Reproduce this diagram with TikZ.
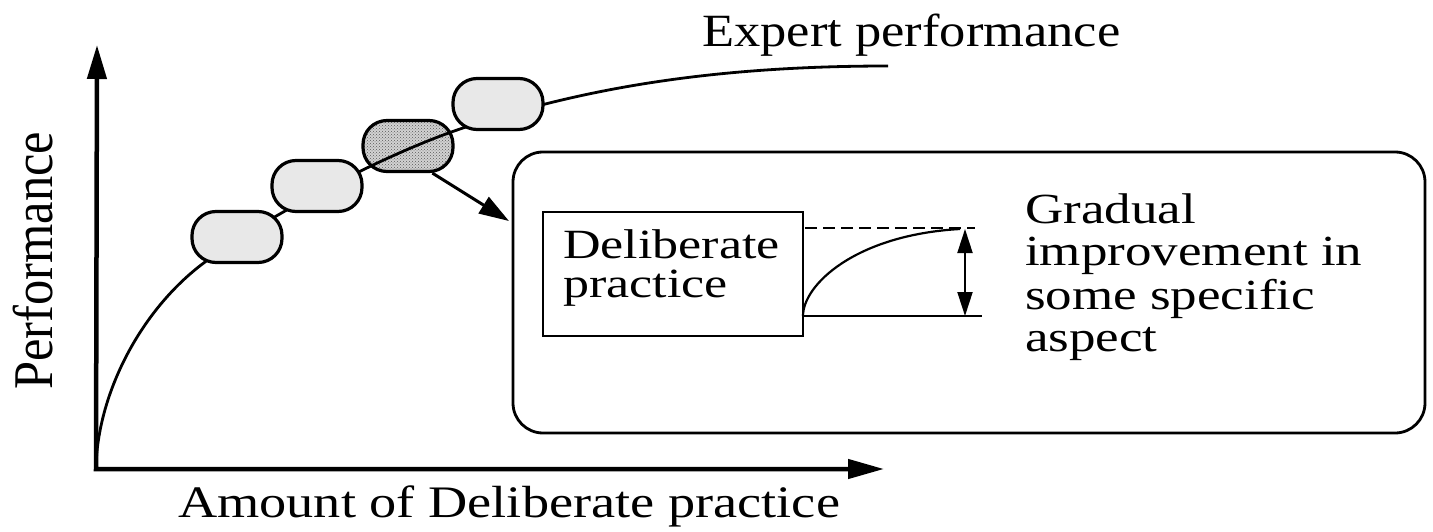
\documentclass[tikz,border=0pt]{standalone}
\usepackage{fontspec}
\setmainfont{Liberation Serif}
\usetikzlibrary{arrows.meta,patterns}
\begin{document}
\begin{tikzpicture}[x=1pt,y=-1pt,
  axisline/.style={line width=4.5pt,line join=miter},
  stage/.style={draw,line width=3.2pt,rounded corners=24pt,minimum width=90pt,minimum height=51pt,inner sep=0pt,fill=gray!18},
  current/.style={stage,preaction={fill=gray!35},pattern=crosshatch dots,pattern color=black!65},
  lbl/.style={inner sep=0pt,anchor=base west},
  thincurve/.style={line width=2.8pt},
]
\useasboundingbox (0,0) rectangle (1433,532);

% axes
\coordinate (O) at (96,469);
\coordinate (ytip) at (97,45);
\coordinate (xtip) at (884,469);
\draw[axisline,{Triangle[length=34pt,width=19pt]}-{Triangle[length=36pt,width=19pt]}] (ytip) -- (O) -- (xtip);

% current stage (under the curve)
\node[current] (s3) at (408,146) {};

% learning curve
\coordinate (cend) at (888,66);
\draw[thincurve] (O) .. controls (97,395) and (140,310) .. (205,262)
  .. controls (265,217.7) and (383,154.4) .. (463,128)
  .. controls (573,91.7) and (700,66) .. (cend);

% other stages
\node[stage] (s1) at (237,237) {};
\node[stage] (s2) at (317,186) {};
\node[stage] (s4) at (498,104) {};

% zoom box
\node[draw,line width=2.8pt,rounded corners=30pt,minimum width=912pt,minimum height=281pt,inner sep=0pt] (big) at (969,292.5) {};
\coordinate (atip) at (509,221);
\draw[line width=3pt,-{Triangle[length=30pt,width=19pt]}] (s3.-48) -- (atip);

\node[draw,line width=2.2pt,minimum width=260pt,minimum height=124pt,inner sep=0pt] (dp) at (673,274) {};
\node[lbl] (dptxt) at (563,258) {\scalebox{1}[0.8]{\fontsize{52}{50}\selectfont\begin{tabular}[t]{@{}l@{}}Deliberate\\practice\end{tabular}}};

\coordinate (d1) at (805,228);
\coordinate (d2) at (975,228);
\coordinate (b1) at (803,316);
\coordinate (b2) at (982,316);
\coordinate (c2) at (960,229);
\coordinate (u1) at (965,229);
\coordinate (u2) at (965,316);
\draw[line width=2pt,dash pattern=on 12pt off 6pt] (d1) -- (d2);
\draw[line width=2pt] (b1) -- (b2);
\draw[line width=2.2pt] (b1) .. controls (803,285) and (855,235) .. (c2);
\draw[line width=2pt,{Triangle[length=24pt,width=15pt]}-{Triangle[length=24pt,width=15pt]}] (u1) -- (u2);

\node[lbl] (grad) at (1025,223) {\scalebox{1}[0.81]{\fontsize{53}{53}\selectfont\begin{tabular}[t]{@{}l@{}}Gradual\\improvement in\\some specific\\aspect\end{tabular}}};

% labels
\node[lbl] (expert) at (702,47) {\scalebox{1}[0.88]{\fontsize{52.5}{55}\selectfont Expert performance}};
\node[lbl] (xlab) at (178,517) {\scalebox{1}[0.83]{\fontsize{54.3}{56}\selectfont Amount of Deliberate practice}};
\node[lbl,rotate=90] (ylab) at (52,390) {\scalebox{1}[1.11]{\fontsize{50.5}{52}\selectfont Performance}};
\end{tikzpicture}
\end{document}
